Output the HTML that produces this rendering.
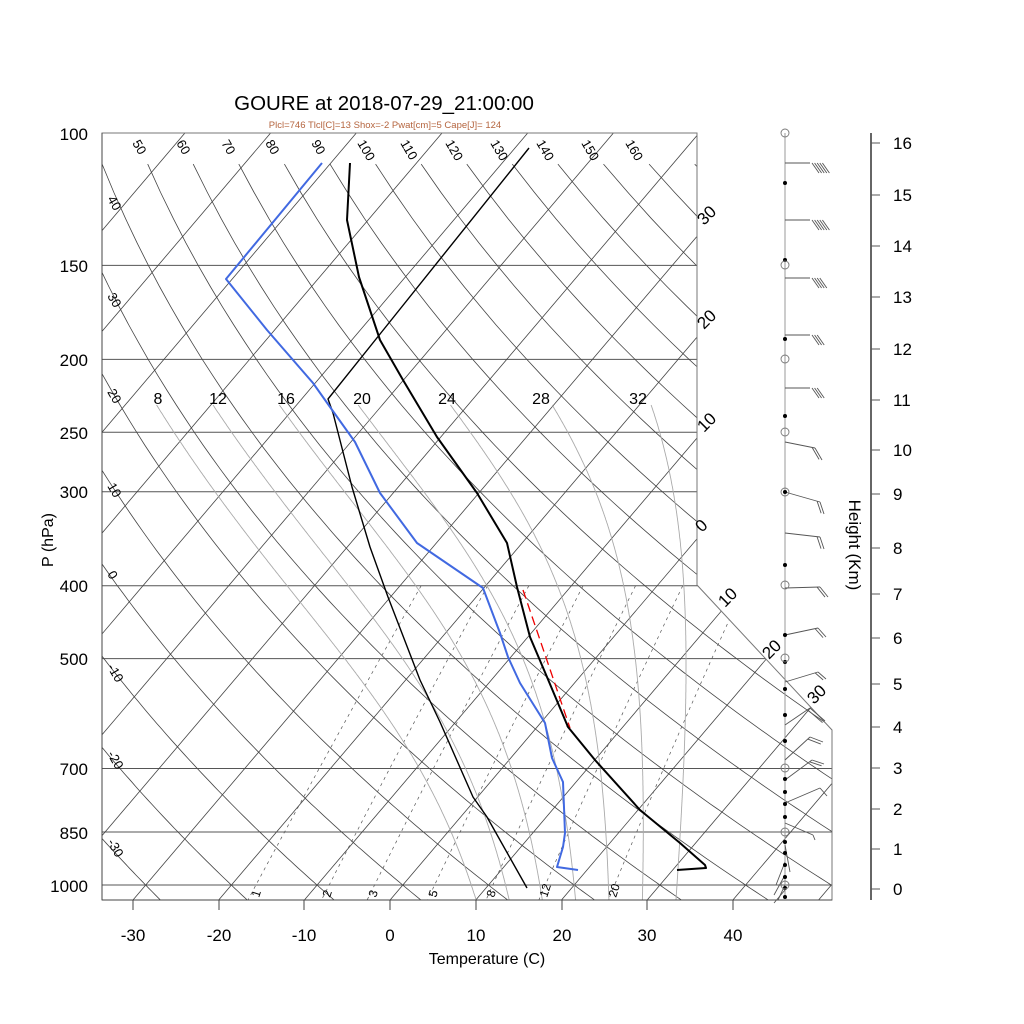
<!DOCTYPE html>
<html><head><meta charset="utf-8"><style>
html,body{margin:0;padding:0;background:#fff;}
svg{display:block;font-family:"Liberation Sans",Arial,sans-serif;}
</style></head><body>
<svg id="s" width="1024" height="1024" viewBox="0 0 1024 1024" xmlns="http://www.w3.org/2000/svg">
<defs><clipPath id="cp"><polygon points="102,133 697,133 697,585 832,730 832,900 102,900"/></clipPath></defs>
<rect width="1024" height="1024" fill="#fff"/>
<g id="grid" clip-path="url(#cp)"></g>
<g id="data"></g>
<polygon points="102,133 697,133 697,585 832,730 832,900 102,900" fill="none" stroke="#777" stroke-width="1"/>
<line x1="102" y1="133" x2="102" y2="900" stroke="#444" stroke-width="1"/>
<line x1="102" y1="900" x2="832" y2="900" stroke="#444" stroke-width="1"/>
<text x="384" y="110" font-size="20.5" text-anchor="middle" fill="#000">GOURE at 2018-07-29_21:00:00</text>
<text x="385" y="128" font-size="9.5" text-anchor="middle" fill="#b5653f">Plcl=746 Tlcl[C]=13 Shox=-2 Pwat[cm]=5 Cape[J]= 124</text>
<g font-size="17" text-anchor="end" fill="#000">
<text x="88" y="140">100</text><text x="88" y="272">150</text><text x="88" y="366">200</text>
<text x="88" y="439">250</text><text x="88" y="498">300</text><text x="88" y="592">400</text>
<text x="88" y="665">500</text><text x="88" y="775">700</text><text x="88" y="839">850</text>
<text x="88" y="892">1000</text></g>
<text transform="translate(53,540) rotate(-90)" font-size="16" text-anchor="middle">P (hPa)</text>
<g stroke="#444" stroke-width="1">
<line x1="133" y1="900" x2="133" y2="910"/><line x1="219" y1="900" x2="219" y2="910"/>
<line x1="304" y1="900" x2="304" y2="910"/><line x1="390" y1="900" x2="390" y2="910"/>
<line x1="476" y1="900" x2="476" y2="910"/><line x1="562" y1="900" x2="562" y2="910"/>
<line x1="647" y1="900" x2="647" y2="910"/><line x1="733" y1="900" x2="733" y2="910"/></g>
<g font-size="17" text-anchor="middle">
<text x="133" y="941">-30</text><text x="219" y="941">-20</text><text x="304" y="941">-10</text>
<text x="390" y="941">0</text><text x="476" y="941">10</text><text x="562" y="941">20</text>
<text x="647" y="941">30</text><text x="733" y="941">40</text></g>
<text x="487" y="964" font-size="16" text-anchor="middle">Temperature (C)</text>
<g font-size="13" fill="#000" id="dal"></g>
<g font-size="16" text-anchor="middle">
<text x="158" y="404">8</text><text x="218" y="404">12</text><text x="286" y="404">16</text>
<text x="362" y="404">20</text><text x="447" y="404">24</text><text x="541" y="404">28</text><text x="638" y="404">32</text></g>
<g font-size="17" id="isol"></g>
<g font-size="12" id="mrl"></g>
<line x1="785" y1="133" x2="785" y2="900" stroke="#999" stroke-width="1"/>
<g id="wind" stroke="#555" stroke-width="0.9" fill="none"></g>
<line x1="871" y1="133" x2="871" y2="900" stroke="#000" stroke-width="1.2"/>
<g id="hax" font-size="17"></g>
<text transform="translate(849,545) rotate(90)" font-size="17" text-anchor="middle">Height (Km)</text>
</svg>
<script>
(function(){
var NS="http://www.w3.org/2000/svg";
function el(p,n,a,t){var e=document.createElementNS(NS,n);for(var k in a)e.setAttribute(k,a[k]);if(t!=null)e.textContent=t;p.appendChild(e);return e;}
function Y(p){return 133+326.6*Math.log(p/100);}
function X(T,p){return 390+8.57*T+0.85*(900-Y(p));}
var g=document.getElementById('grid');
function pl(pts,a){var s=pts.map(function(q){return q[0].toFixed(1)+','+q[1].toFixed(1)}).join(' ');a.points=s;a.fill='none';el(g,'polyline',a);}
[150,200,250,300,400,500,700,850,1000].forEach(function(p){var y=Y(p);el(g,'line',{x1:102,y1:y,x2:840,y2:y,stroke:'#555','stroke-width':1});});
for(var T=-150;T<=50;T+=10){pl([[X(T,1060),Y(1060)],[X(T,95),Y(95)]],{stroke:'#444','stroke-width':0.8});}
for(var th=-50;th<=260;th+=10){var pts=[];for(var p=110;p<=1060;p+=10){pts.push([X((th+273.15)*Math.pow(p/1000,0.286)-273.15,p),Y(p)]);}pl(pts,{stroke:'#444','stroke-width':0.8});}
[1,2,3,5,8,12,20].forEach(function(w){var pts=[];for(var p=400;p<=1060;p+=20){var e=w*p/(622+w);var l=Math.log(e/6.112);var t=243.5*l/(17.67-l);pts.push([X(t,p),Y(p)]);}pl(pts,{stroke:'#555','stroke-width':0.7,'stroke-dasharray':'3,4'});});
function es(t){return 6.112*Math.exp(17.67*t/(t+243.5));}
function dTdp(t,p){var TK=t+273.15,e=es(t),rs=0.622*e/(p-e),Rd=287,L=2.5e6,cp=1005;return (Rd*TK+L*rs)/(p*(cp+L*L*rs*0.622/(Rd*TK*TK)));}
[8,12,16,20,24,28,32].forEach(function(tw){var up=[],t=tw,p=1000;while(p>=230){up.push([X(t,p),Y(p)]);t-=dTdp(t,p)*1;p-=1;}
var dn=[];t=tw;p=1000;while(p<=1060){dn.push([X(t,p),Y(p)]);t+=dTdp(t,p)*1;p+=1;}
pl(up.reverse().concat(dn),{stroke:'#aaa','stroke-width':0.9});});
var d=document.getElementById('data');
function dl(pts,a){a.points=pts.map(function(q){return q.join(',')}).join(' ');a.fill='none';a['stroke-linejoin']='round';el(d,'polyline',a);}
dl([[529,148],[328,399],[333,413],[352,487],[370,547],[388,597],[420,680],[440,722],[473,797],[487,817],[527,888]],{stroke:'#000','stroke-width':1.4});
dl([[523,590],[570,728]],{stroke:'#e00','stroke-width':1.3,'stroke-dasharray':'9,5'});
dl([[322,163],[226,279],[267,330],[313,383],[330,407],[355,442],[380,493],[417,543],[483,588],[500,633],[508,657],[520,683],[545,723],[552,758],[563,782],[565,833],[563,847],[557,867],[578,870]],{stroke:'#4169e1','stroke-width':2});
dl([[350,163],[347,220],[359,277],[380,340],[403,380],[437,437],[477,493],[507,543],[517,587],[530,637],[547,677],[568,727],[595,760],[640,810],[680,843],[705,865],[706,868],[677,870]],{stroke:'#000','stroke-width':2});
var dal=document.getElementById('dal');
[[50,137],[60,181],[70,226],[80,270],[90,316],[100,362],[110,405],[120,450],[130,495],[140,541],[150,586],[160,630]].forEach(function(a){el(dal,'text',{transform:'translate('+(a[1]-5)+',143) rotate(60)'},a[0]);});
[[40,205],[30,302],[20,398],[10,492],[0,580],[-10,673],[-20,760],[-30,848]].forEach(function(a){el(dal,'text',{transform:'translate(107,'+(a[1]-6)+') rotate(60)'},a[0]);});
var il=document.getElementById('isol');
[['30',710,218],['20',710,322],['10',710,425],['0',708,525],['10',731,600],['20',775,652],['30',820,697]].forEach(function(a){el(il,'text',{transform:'translate('+(a[1]-6)+','+(a[2]+8)+') rotate(-45)'},a[0]);});
var ml=document.getElementById('mrl');
[['1',255],['2',326],['3',372],['5',432],['8',490],['12',543],['20',612]].forEach(function(a){el(ml,'text',{transform:'translate('+(a[1]+4)+',898) rotate(-72)'},a[0]);});
var hx=document.getElementById('hax');
var hy=[889,849,809,768,727,684,638,594,548,494,450,400,349,297,246,195,143];
hy.forEach(function(y,i){el(hx,'line',{x1:871,y1:y,x2:880,y2:y,stroke:'#555','stroke-width':1});el(hx,'text',{x:893,y:y+6},String(i));});
var w=document.getElementById('wind');
function barb(y0,ex,ey,n,fx,fy){el(w,'line',{x1:785,y1:y0,x2:ex,y2:ey});var dx=785-ex,dy=y0-ey,l=Math.sqrt(dx*dx+dy*dy);dx/=l;dy/=l;for(var i=0;i<n;i++){el(w,'line',{x1:ex+dx*3*i,y1:ey+dy*3*i,x2:ex+dx*3*i+fx,y2:ey+dy*3*i+fy});}}
function hb(y,n){el(w,'line',{x1:785,y1:y,x2:810,y2:y});for(var i=0;i<n;i++){var x=812+i*2.6;el(w,'line',{x1:x,y1:y,x2:x+7,y2:y+10});}}
hb(163,5);hb(220,5);hb(278,4);hb(335,3);hb(388,3);
barb(442,815,448,2,7,12);barb(492,820,502,2,4,12);barb(533,820,537,2,4,12);barb(588,820,587,2,8,10);barb(635,818,628,2,8,9);
barb(682,818,672,2,8,7);barb(725,810,708,2,15,13);barb(760,810,737,2,13,5);barb(780,812,760,2,12,4);barb(803,820,788,1,7,8);barb(823,813,835,1,2,5);
[[845,790,872],[862,776,885],[875,774,895],[885,778,900],[890,774,903]].forEach(function(a){el(w,'line',{x1:785,y1:a[0],x2:a[1],y2:a[2]});});
[183,260,339,416,492,565,635,662,689,715,741,779,792,804,817,842,853,865,877,888,897].forEach(function(y){el(w,'circle',{cx:785,cy:y,r:2,fill:'#000',stroke:'none'});});
[133,265,359,432,492,585,658,768,832,885].forEach(function(y){el(w,'circle',{cx:785,cy:y,r:4,fill:'none',stroke:'#777'});});
})();
</script>
</body></html>
